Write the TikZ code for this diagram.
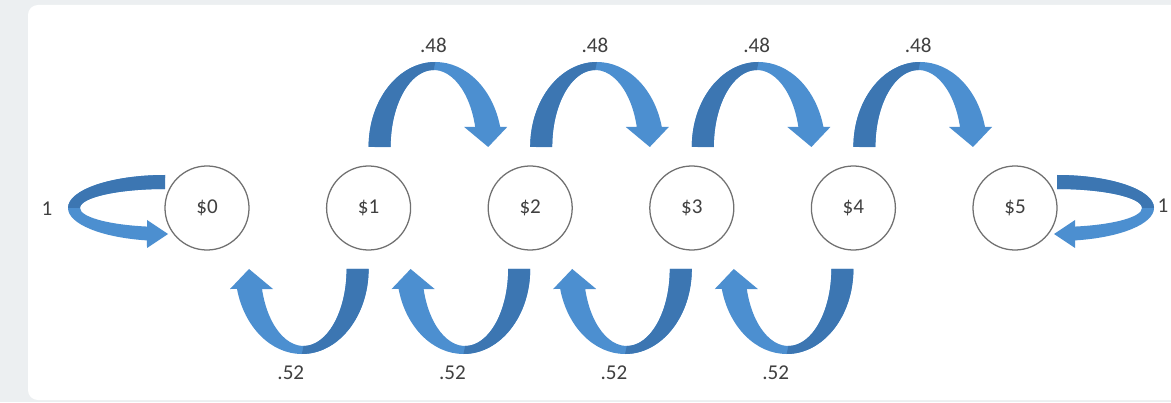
\documentclass[tikz,border=0pt]{standalone}
\usepackage{fontspec}
\setmainfont{Carlito}
\usetikzlibrary{calc}

\definecolor{pagegray}{RGB}{236,239,241}
\definecolor{ribbonlight}{RGB}{76,143,208}
\definecolor{ribbondark}{RGB}{60,118,178}
\definecolor{ringgray}{RGB}{112,112,112}
\definecolor{inkgray}{RGB}{64,64,64}

\tikzset{
  state/.style={circle, draw=ringgray, line width=0.9pt, fill=white,
    minimum size=2.1cm, inner sep=0pt, text=inkgray,
    font=\fontsize{15}{18}\selectfont},
  prob/.style={text=inkgray, inner sep=0pt, font=\fontsize{15}{18}\selectfont},
  % curved ribbon arrow jumping to the next state (origin = midpoint of the pair)
  hop/.pic={
    \fill[ribbonlight] (-80.8,61)
      arc[start angle=180, end angle=13.61, x radius=66.74, y radius=85]
      -- (57.8,81) -- (38.8,61) -- (14.8,81) -- (25.8,81)
      arc[start angle=15.06, end angle=180, x radius=43.04, y radius=77]
      -- cycle;
    \fill[ribbondark] (-80.8,61)
      arc[start angle=180, end angle=90, x radius=66.74, y radius=85]
      -- (-15.76,138)
      arc[start angle=90, end angle=180, x radius=43.04, y radius=77]
      -- cycle;
  },
  % looping ribbon arrow back into an absorbing state (origin = state centre)
  selfloop/.pic={
    \fill[ribbonlight] (-42,33)
      arc[start angle=90, end angle=259.3, x radius=97, y radius=33]
      -- (-60,-40) -- (-39,-26) -- (-60,-12) -- (-60,-18.57)
      arc[start angle=257.78, end angle=90, x radius=85, y radius=19]
      -- cycle;
    \fill[ribbondark] (-42,33)
      arc[start angle=90, end angle=180, x radius=97, y radius=33]
      -- (-127,0)
      arc[start angle=180, end angle=90, x radius=85, y radius=19]
      -- cycle;
  }
}

\begin{document}
\begin{tikzpicture}[x=0.025cm, y=0.025cm]
  \useasboundingbox (0,0) rectangle (1171,402);
  \clip (0,0) rectangle (1171,402);

  % page and card
  \fill[pagegray] (0,0) rectangle (1171,402);
  \fill[white, rounded corners=7pt] (28,2) rectangle (1200,397);

  % states
  \node[state] (s0) at (207,194) {\$0};
  \node[state] (s1) at (368.6,194) {\$1};
  \node[state] (s2) at (530.2,194) {\$2};
  \node[state] (s3) at (691.8,194) {\$3};
  \node[state] (s4) at (853.4,194) {\$4};
  \node[state] (s5) at (1015,194) {\$5};

  % forward moves (win)
  \path ($(s1)!0.5!(s2)$) pic {hop};
  \path ($(s2)!0.5!(s3)$) pic {hop};
  \path ($(s3)!0.5!(s4)$) pic {hop};
  \path ($(s4)!0.5!(s5)$) pic {hop};

  % backward moves (lose)
  \path ($(s0)!0.5!(s1)$) pic[rotate=180] {hop};
  \path ($(s1)!0.5!(s2)$) pic[rotate=180] {hop};
  \path ($(s2)!0.5!(s3)$) pic[rotate=180] {hop};
  \path ($(s3)!0.5!(s4)$) pic[rotate=180] {hop};

  % absorbing states
  \path (s0) pic {selfloop};
  \path (s5) pic[xscale=-1] {selfloop};

  % probabilities
  \node[prob] (w12) at ($(s1)!0.5!(s2)+(-16,163)$) {.48};
  \node[prob] (w23) at ($(s2)!0.5!(s3)+(-16,163)$) {.48};
  \node[prob] (w34) at ($(s3)!0.5!(s4)+(-16,163)$) {.48};
  \node[prob] (w45) at ($(s4)!0.5!(s5)+(-16,163)$) {.48};
  \node[prob] (l10) at ($(s0)!0.5!(s1)+(3,-165)$) {.52};
  \node[prob] (l21) at ($(s1)!0.5!(s2)+(3,-165)$) {.52};
  \node[prob] (l32) at ($(s2)!0.5!(s3)+(3,-165)$) {.52};
  \node[prob] (l43) at ($(s3)!0.5!(s4)+(3,-165)$) {.52};
  \node[prob] (a0) at ($(s0)+(-160,-1)$) {1};
  \node[prob] (a5) at ($(s5)+(148,2)$) {1};
\end{tikzpicture}
\end{document}
